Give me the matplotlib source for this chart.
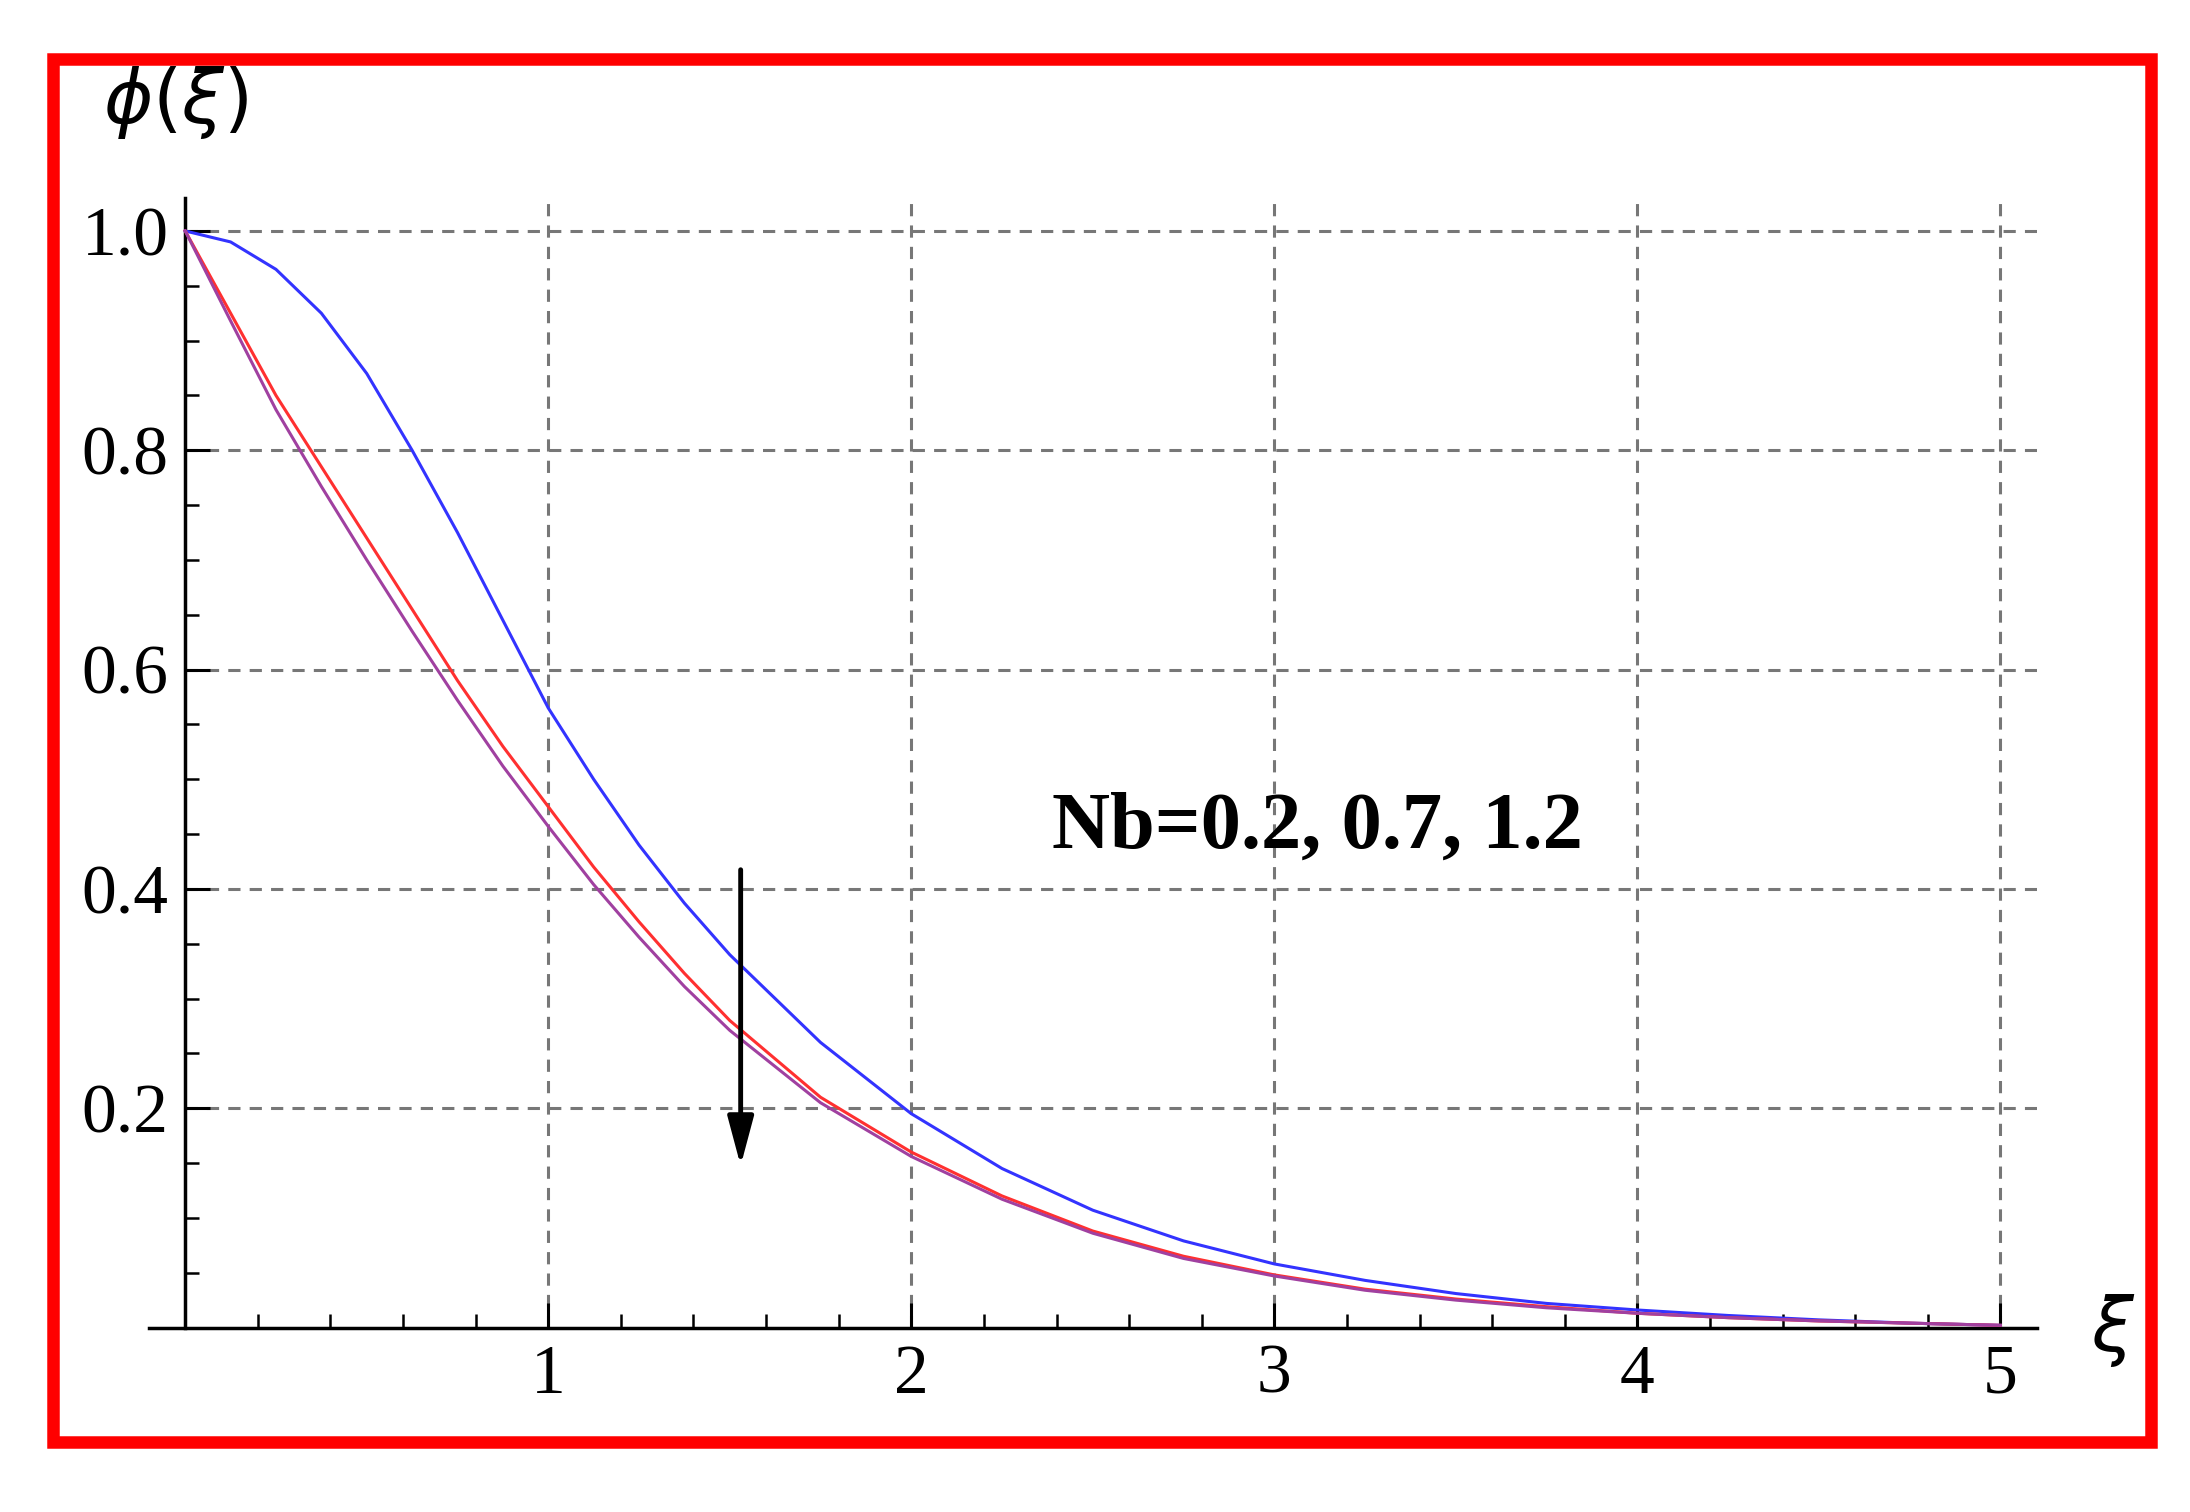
import matplotlib
matplotlib.use("Agg")
import matplotlib.pyplot as plt
from matplotlib.patches import Rectangle

xi = [0,0.125,0.25,0.375,0.5,0.625,0.75,0.875,1,1.125,1.25,1.375,1.5,1.75,2,2.25,2.5,2.75,3,3.25,3.5,3.75,4,4.25,4.5,4.75,5]
blue = [1.0,0.99,0.965,0.925,0.87,0.80,0.725,0.645,0.565,0.50,0.44,0.387,0.34,0.26,0.195,0.145,0.107,0.079,0.058,0.043,0.031,0.022,0.016,0.011,0.007,0.004,0.002]
red = [1.0,0.925,0.85,0.785,0.72,0.655,0.59,0.53,0.475,0.42,0.37,0.323,0.28,0.21,0.16,0.12,0.088,0.065,0.048,0.035,0.026,0.019,0.013,0.009,0.006,0.004,0.002]
purple = [1.0,0.918,0.837,0.767,0.70,0.635,0.572,0.512,0.457,0.404,0.356,0.311,0.271,0.205,0.156,0.117,0.086,0.063,0.047,0.034,0.025,0.018,0.013,0.009,0.006,0.004,0.002]
xticks = [1,2,3,4,5]
yticks = [0.2,0.4,0.6,0.8,1.0]
label = "Nb=0.2, 0.7, 1.2"

plt.rcParams['font.family'] = ['Liberation Serif', 'DejaVu Serif']
fig = plt.figure(figsize=(21.9, 15.12), dpi=100)
ax = fig.add_axes([0.068, 0.122, 0.862, 0.747])
ax.set_xlim(-0.1, 5.1)
ax.set_ylim(0, 1.03)
for y in yticks:
    ax.plot([0, 5.1], [y, y], ls=(0, (4, 3)), color='#777777', lw=2.2, zorder=1)
for x in xticks:
    ax.plot([x, x], [0, 1.03], ls=(0, (4, 3)), color='#777777', lw=2.2, zorder=1)
ax.plot(xi, blue, color='#3333ff', lw=2.2, zorder=3)
ax.plot(xi, red, color='#ff3030', lw=2.2, zorder=3)
ax.plot(xi, purple, color='#a040a0', lw=2.2, zorder=3)
for s in ['top', 'right']:
    ax.spines[s].set_visible(False)
ax.spines['left'].set_position(('data', 0))
ax.spines['bottom'].set_position(('data', 0))
ax.spines['left'].set_linewidth(2.5)
ax.spines['bottom'].set_linewidth(2.5)
ax.set_xticks(xticks)
ax.set_yticks(yticks)
ax.set_xticklabels([str(t) for t in xticks])
ax.set_yticklabels(['%.1f' % t for t in yticks])
ax.set_xticks([i*0.2 for i in range(1, 26) if i % 5], minor=True)
ax.set_yticks([i*0.05 for i in range(1, 21) if i % 4], minor=True)
ax.tick_params(which='major', direction='in', length=18, width=2.2, labelsize=50, pad=12)
ax.tick_params(which='minor', direction='in', length=10, width=1.8)
ax.annotate('', xy=(1.53, 0.145), xytext=(1.53, 0.42),
            arrowprops=dict(arrowstyle='-|>,head_width=0.8,head_length=3.0', color='black', lw=3.5), zorder=4)
ax.text(3.12, 0.455, label, fontsize=58, fontweight='bold', ha='center', va='center')
fig.text(0.08, 0.932, r'$\phi(\xi)$', fontsize=54, ha='center', va='center')
fig.text(0.965, 0.12, r'$\xi$', fontsize=54, ha='center', va='center')
fig.patches.append(Rectangle((0.024, 0.046), 0.958, 0.915, transform=fig.transFigure,
                             fill=False, edgecolor='red', lw=9))
fig.savefig('out.png', dpi=100)
